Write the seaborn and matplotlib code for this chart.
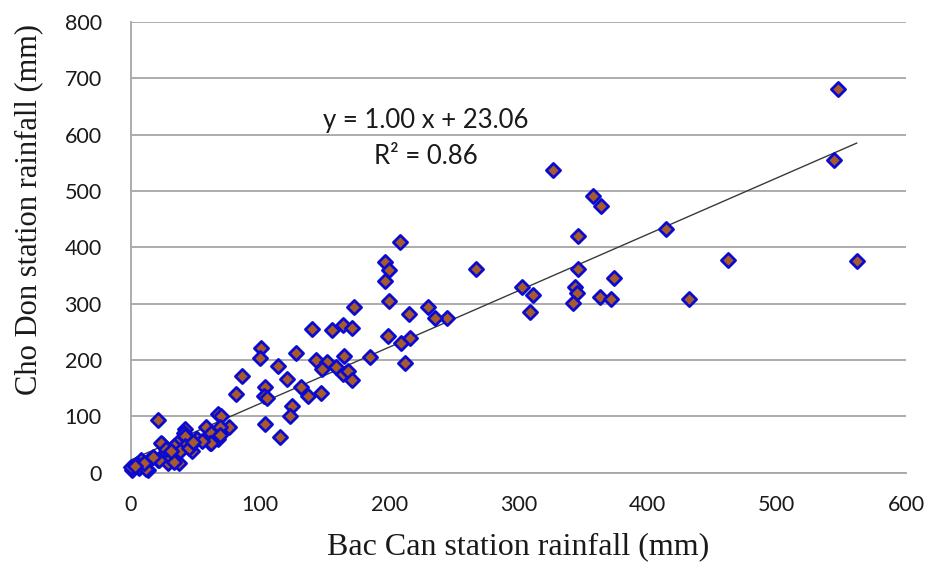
import matplotlib
matplotlib.use("Agg")
import matplotlib.pyplot as plt
import seaborn as sns
import numpy as np
import pandas as pd

# Data (Bac Can rainfall vs Cho Don rainfall, mm)
bac_can = [547, 544, 562, 462, 432, 414, 327, 358, 364, 346, 346, 374, 344, 345, 342, 363, 372,
           303, 311, 309, 267, 245, 235,
           208, 197, 200, 197, 200, 199, 209, 216, 212, 215, 230, 173, 140, 156, 164, 171,
           101, 100, 114, 128, 143, 152, 148, 159, 165, 185, 164, 168, 171, 86, 81, 121, 104,
           103, 105, 132, 137, 147, 125, 123, 104, 115,
           67, 70, 76, 69, 58, 62, 67, 61, 42, 50, 41, 21, 41, 42, 24, 36, 42, 26, 33, 37, 29,
           21, 14, 8, 6, 1, 13, 47, 33, 23, 30, 38, 22, 33, 0, 6, 12, 69, 51, 62, 5, 10, 3, 17,
           27, 31, 45, 55, 48]
cho_don = [681, 555, 376, 378, 308, 433, 538, 491, 473, 421, 362, 346, 330, 319, 302, 312, 308,
           329, 316, 285, 361, 274, 274,
           410, 374, 359, 341, 305, 242, 230, 240, 195, 281, 294, 294, 256, 254, 263, 257,
           221, 204, 190, 212, 201, 197, 185, 187, 207, 205, 175, 180, 164, 172, 140, 167, 152,
           136, 132, 152, 136, 142, 118, 100, 87, 64,
           105, 100, 81, 82, 82, 70, 60, 53, 78, 60, 50, 94, 70, 65, 51, 53, 48, 35, 30, 18, 18,
           23, 23, 23, 8, 5, 5, 38, 47, 53, 29, 38, 23, 20, 10, 10, 6, 67, 60, 53, 15, 18, 12, 28,
           42, 38, 44, 57, 55]

slope = 1.00
intercept = 23.06
r_squared = 0.86

x_ticks = [0, 100, 200, 300, 400, 500, 600]
y_ticks = [0, 100, 200, 300, 400, 500, 600, 700, 800]
x_label = "Bac Can station rainfall (mm)"
y_label = "Cho Don station rainfall (mm)"

df = pd.DataFrame({"bac_can": bac_can, "cho_don": cho_don})

sns.set_style("white")
plt.rcParams["font.family"] = ["Lato", "DejaVu Sans"]

fig = plt.figure(figsize=(9.27, 5.67), dpi=100)
ax = fig.add_axes([0.1413, 0.166, 0.836, 0.7955])

grid_color = "#A6A6A6"
ax.set_axisbelow(True)
ax.yaxis.grid(True, color=grid_color, linewidth=1.3)
ax.xaxis.grid(False)

# regression line
line_x = np.array([min(bac_can), max(bac_can)], dtype=float)
line_df = pd.DataFrame({"x": line_x, "y": slope * line_x + intercept})
sns.lineplot(data=line_df, x="x", y="y", ax=ax, color="#3A3A3A", linewidth=1.0, zorder=2)

sns.scatterplot(data=df, x="bac_can", y="cho_don", ax=ax, marker="D", s=52,
                color="#A85A2A", edgecolor="#0A0AD0", linewidth=2.0, zorder=3, clip_on=False)

ax.set_xlim(0, 600)
ax.set_ylim(0, 800)
ax.set_xticks(x_ticks)
ax.set_yticks(y_ticks)
ax.set_xticklabels([str(t) for t in x_ticks])
ax.set_yticklabels([str(t) for t in y_ticks])

for side in ["top", "right"]:
    ax.spines[side].set_visible(False)
for side in ["bottom", "left"]:
    ax.spines[side].set_color(grid_color)
    ax.spines[side].set_linewidth(1.3)

ax.tick_params(axis="x", direction="in", length=7, width=1.1, color=grid_color,
               labelsize=15.5, pad=16, labelcolor="#1a1a1a")
ax.tick_params(axis="y", length=0, labelsize=15.5, pad=21, labelcolor="#1a1a1a")

ax.set_xlabel(x_label, fontsize=23, family=["Liberation Serif"], color="#1a1a1a")
ax.set_ylabel(y_label, fontsize=22, family=["Liberation Serif"], color="#1a1a1a")
ax.xaxis.set_label_coords(0.5, -0.132)
ax.yaxis.set_label_coords(-0.113, 0.585)

ax.text(228, 625, f"y = {slope:.2f} x + {intercept:.2f}", fontsize=18.5, ha="center", va="center",
        color="#1a1a1a")
ax.text(228, 561, f"R\u00b2 = {r_squared:.2f}", fontsize=18.5, ha="center", va="center",
        color="#1a1a1a")

fig.savefig("out.png", dpi=100)
